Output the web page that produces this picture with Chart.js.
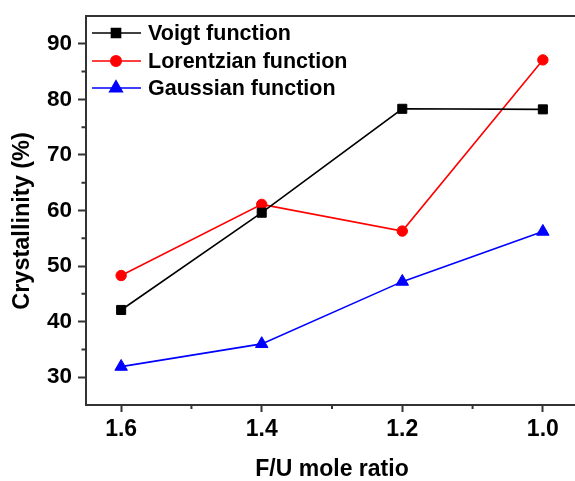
<!DOCTYPE html>
<html>
<head>
<meta charset="utf-8">
<script src="https://cdn.jsdelivr.net/npm/chart.js@4.4.0/dist/chart.umd.min.js"></script>
<style>
  html, body { margin: 0; padding: 0; background: #fff; overflow: hidden; }
  #chart { position: absolute; left: 0; top: 0; }
</style>
</head>
<body>
<canvas id="chart" width="580" height="481"></canvas>
<script>
const ratios = [1.6, 1.4, 1.2, 1.0];
const voigt = [42.1, 59.6, 78.3, 78.2];
const lorentzian = [48.3, 61.1, 56.3, 87.1];
const gaussian = [31.9, 36.0, 47.2, 56.2];
const seriesNames = ['Voigt function', 'Lorentzian function', 'Gaussian function'];
const xTicks = [1.6, 1.4, 1.2, 1.0];
const xMinor = [1.5, 1.3, 1.1];
const yTicks = [30, 40, 50, 60, 70, 80, 90];
const yMinor = [35, 45, 55, 65, 75, 85];

const FONT = "'Liberation Sans', Arial, sans-serif";
const AXIS = '#333';

function pts(vals) {
  return ratios.map((x, i) => ({ x: x, y: vals[i] }));
}

// top border, minor ticks, y title, legend
const extras = {
  id: 'extras',
  afterDraw(chart) {
    const ctx = chart.ctx;
    const a = chart.chartArea;
    const xs = chart.scales.x, ys = chart.scales.y;
    ctx.save();
    ctx.strokeStyle = AXIS;
    ctx.lineWidth = 2;
    ctx.beginPath();
    ctx.moveTo(a.left - 1, a.top);
    ctx.lineTo(a.right + 1, a.top);
    ctx.stroke();
    ctx.beginPath();
    xMinor.forEach(v => {
      const px = xs.getPixelForValue(v);
      ctx.moveTo(px, a.bottom);
      ctx.lineTo(px, a.bottom + 4);
    });
    yMinor.forEach(v => {
      const py = ys.getPixelForValue(v);
      ctx.moveTo(a.left, py);
      ctx.lineTo(a.left - 4.5, py);
    });
    ctx.stroke();

    // y axis title
    ctx.save();
    ctx.translate(22, 221);
    ctx.rotate(-Math.PI / 2);
    ctx.font = 'bold 23.5px ' + FONT;
    ctx.fillStyle = '#000';
    ctx.textAlign = 'center';
    ctx.textBaseline = 'middle';
    ctx.fillText('Crystallinity (%)', 0, 1);
    ctx.restore();

    // legend
    const rows = [33, 61, 88];
    ctx.font = 'bold 21.5px ' + FONT;
    ctx.textBaseline = 'middle';
    ctx.textAlign = 'left';
    chart.data.datasets.forEach((ds, i) => {
      const y = rows[i];
      ctx.strokeStyle = ds.borderColor;
      ctx.lineWidth = ds.borderWidth;
      ctx.beginPath();
      ctx.moveTo(92, y);
      ctx.lineTo(141, y);
      ctx.stroke();
      ctx.fillStyle = ds.pointBackgroundColor;
      ctx.strokeStyle = ds.pointBorderColor;
      Chart.helpers.drawPoint(ctx, {
        pointStyle: ds.pointStyle,
        radius: ds.pointRadius,
        rotation: 0,
        borderWidth: 1
      }, 116, y);
      ctx.fillStyle = '#000';
      ctx.fillText(seriesNames[i], 148, y + 1);
    });
    ctx.restore();
  }
};

function series(label, vals, color, style, radius) {
  return {
    label: label,
    data: pts(vals),
    borderColor: color,
    backgroundColor: color,
    borderWidth: 1.6,
    pointStyle: style,
    pointRadius: radius,
    pointHoverRadius: radius,
    pointBackgroundColor: color,
    pointBorderColor: color,
    pointBorderWidth: 1,
    tension: 0
  };
}

new Chart(document.getElementById('chart'), {
  type: 'line',
  data: {
    datasets: [
      series(seriesNames[0], voigt, '#000000', 'rect', 6.4),
      series(seriesNames[1], lorentzian, '#ff0000', 'circle', 5.2),
      series(seriesNames[2], gaussian, '#0000ff', 'triangle', 7.2)
    ]
  },
  options: {
    responsive: false,
    animation: false,
    layout: { autoPadding: false, padding: { top: 16, right: 2, left: 0, bottom: 0 } },
    plugins: { legend: { display: false }, tooltip: { enabled: false } },
    scales: {
      x: {
        type: 'linear',
        reverse: true,
        min: 0.95,
        max: 1.65,
        afterBuildTicks: (axis) => { axis.ticks = xTicks.map(v => ({ value: v })); },
        afterFit: (axis) => {
          axis.height = 76;
          axis.paddingLeft = 0;
          axis.paddingRight = 0;
        },
        border: { color: AXIS, width: 2 },
        grid: { drawOnChartArea: false, drawTicks: true, tickLength: 7, tickColor: AXIS, tickWidth: 2 },
        ticks: {
          color: '#000',
          padding: 6,
          font: { family: FONT, size: 23, weight: 'bold', lineHeight: 1 },
          callback: (v) => Number(v).toFixed(1)
        },
        title: {
          display: true,
          text: 'F/U mole ratio',
          color: '#000',
          padding: 0,
          font: { family: FONT, size: 23, weight: 'bold', lineHeight: 1 }
        }
      },
      y: {
        type: 'linear',
        min: 25,
        max: 95,
        afterBuildTicks: (axis) => { axis.ticks = yTicks.map(v => ({ value: v })); },
        afterFit: (axis) => {
          axis.width = 86;
          axis.paddingTop = 0;
          axis.paddingBottom = 0;
        },
        border: { color: AXIS, width: 2 },
        grid: { drawOnChartArea: false, drawTicks: true, tickLength: 8, tickColor: AXIS, tickWidth: 2 },
        ticks: {
          color: '#000',
          padding: 6,
          font: { family: FONT, size: 22.5, weight: 'bold', lineHeight: 1 }
        }
      }
    }
  },
  plugins: [extras]
});
</script>
</body>
</html>
